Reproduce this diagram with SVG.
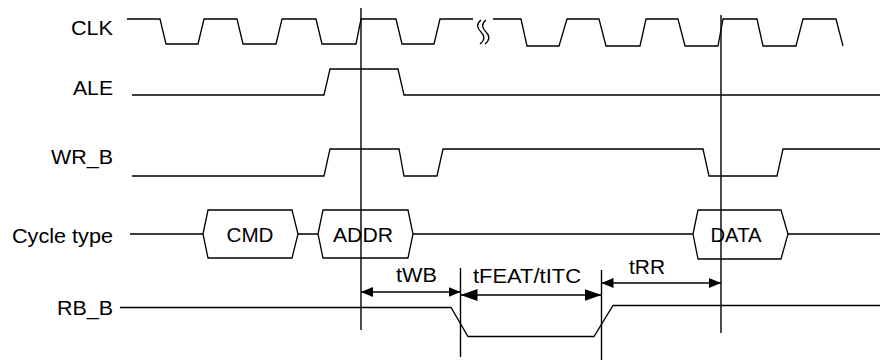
<svg xmlns="http://www.w3.org/2000/svg" width="880" height="361" viewBox="0 0 880 361">
<defs>
<style>
.w{fill:none;stroke:#000;stroke-width:1.3;stroke-linejoin:miter}
.v{fill:none;stroke:#000;stroke-width:1.4}
.a{fill:none;stroke:#000;stroke-width:1.3}
text{font-family:"Liberation Sans",Arial,sans-serif;font-size:20px;fill:#000}
.lbl{text-anchor:end}
.mid{text-anchor:middle}
</style>
<marker id="hs" markerUnits="userSpaceOnUse" markerWidth="13" markerHeight="11" refX="12" refY="5" orient="auto-start-reverse"><path d="M0,0 L12,5 L0,10 Z" fill="#000"/></marker>
<marker id="hl" markerUnits="userSpaceOnUse" markerWidth="18" markerHeight="13" refX="17" refY="6" orient="auto-start-reverse"><path d="M0,0 L17,6 L0,12 Z" fill="#000"/></marker>
</defs>
<rect width="880" height="361" fill="#fff"/>

<g id="labels">
<text class="lbl" x="113" y="35" textLength="42" lengthAdjust="spacingAndGlyphs">CLK</text>
<text class="lbl" x="113" y="95" textLength="40" lengthAdjust="spacingAndGlyphs">ALE</text>
<text class="lbl" x="113" y="164" textLength="62" lengthAdjust="spacingAndGlyphs">WR_B</text>
<text class="lbl" x="113" y="243" textLength="101" lengthAdjust="spacingAndGlyphs">Cycle type</text>
<text class="lbl" x="113" y="315" textLength="56" lengthAdjust="spacingAndGlyphs">RB_B</text>
</g>

<g id="clk">
<path class="w" d="M127,19 H160 L166,44 H198 L204,19 H237 L243,44 H276 L282,19 H316 L322,44 H356 L361,19 H396 L402,44 H434 L440,19 H473"/>
<path class="w" d="M481,20 C476,24 477,28 481,32 C485,36 485,40 480,44"/>
<path class="w" d="M486,20 C481,24 482,28 486,32 C490,36 490,40 485,44"/>
<path class="w" d="M493,19 H521 L527,46 H559 L567,19 H599 L606,46 H640 L646,19 H678 L685,46 H718 L723,19 H757 L763,46 H796 L803,19 H836 L843,46"/>
</g>

<g id="ale">
<path class="w" d="M132,95 H324 L330,69 H398 L404,95 H880"/>
</g>

<g id="wr_b">
<path class="w" d="M132,176 H324 L330,149 H399 L404,176 H437 L443,149 H703 L709,176 H777 L783,149 H880"/>
</g>

<g id="cycle">
<path class="w" d="M130,234 H203 M298,234 H318 M413,234 H693 M788,234 H880"/>
<g id="cmd">
<path class="w" d="M203,234 L208,210 H292 L298,234 L292,258 H208 Z"/>
<text class="mid" x="250" y="242" textLength="47" lengthAdjust="spacingAndGlyphs">CMD</text>
</g>
<g id="addr">
<path class="w" d="M318,234 L323,210 H408 L413,234 L408,258 H323 Z"/>
<text class="mid" x="363" y="242" textLength="60" lengthAdjust="spacingAndGlyphs">ADDR</text>
</g>
<g id="data">
<path class="w" d="M693,234 L698,210 H781 L788,234 L781,259 H698 Z"/>
<text class="mid" x="736" y="242" textLength="51" lengthAdjust="spacingAndGlyphs">DATA</text>
</g>
</g>

<g id="rb_b">
<path class="w" d="M120,307.5 H451 L468,336.5 H594 L613,305.5 H880"/>
</g>

<g id="connectors">
<line class="v" x1="361" y1="8" x2="361" y2="330"/>
<line class="v" x1="721" y1="15" x2="721" y2="333"/>
<line class="v" x1="460.5" y1="268" x2="460.5" y2="357"/>
<line class="v" x1="601.5" y1="270" x2="601.5" y2="360"/>
<line class="a" x1="361" y1="292" x2="460.5" y2="292" marker-start="url(#hs)" marker-end="url(#hs)"/>
<line class="a" x1="460.5" y1="295" x2="601.5" y2="295" marker-start="url(#hl)" marker-end="url(#hl)"/>
<line class="a" x1="601.5" y1="283" x2="721" y2="283" marker-start="url(#hs)" marker-end="url(#hs)"/>
</g>

<g id="timing-labels">
<text x="396" y="282" textLength="41" lengthAdjust="spacingAndGlyphs">tWB</text>
<text x="473" y="283" textLength="108" lengthAdjust="spacingAndGlyphs">tFEAT/tITC</text>
<text x="629" y="274" textLength="36" lengthAdjust="spacingAndGlyphs">tRR</text>
</g>
</svg>
